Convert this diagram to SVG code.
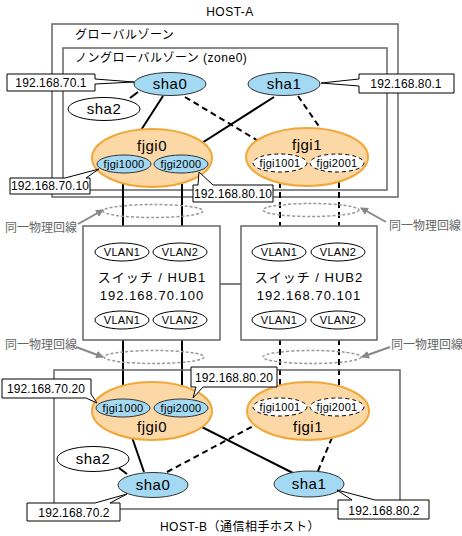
<svg xmlns="http://www.w3.org/2000/svg" width="462" height="536" viewBox="0 0 462 536">
<style>
text{font-family:"Liberation Sans","Noto Sans CJK JP",sans-serif;fill:#000;text-anchor:middle}
.box{fill:none;stroke:#666;stroke-width:1.5}
.sw{fill:#fff;stroke:#666;stroke-width:1.5}
.lbl{fill:#fff;stroke:#000;stroke-width:1}
.blue{fill:#a3d9f3;stroke:#333;stroke-width:1}
.wht{fill:#fff;stroke:#000;stroke-width:1}
.dsh{fill:#fff;stroke:#000;stroke-width:1;stroke-dasharray:4,3}
.org{fill:#fcd8a6;stroke:#f0a83a;stroke-width:2}
.gell{fill:none;stroke:#999;stroke-width:1.5;stroke-dasharray:3,2}
.sol{stroke:#000;stroke-width:2;fill:none}
.dl{stroke:#000;stroke-width:2;fill:none;stroke-dasharray:6,4}
.thin{stroke:#000;stroke-width:1;fill:none}
.garr{stroke:#888;stroke-width:2;fill:none}
.t12{font-size:12px;letter-spacing:0.5px}
.ip{font-size:12px;letter-spacing:0.1px}
.t14{font-size:15px;letter-spacing:0.5px}
.t11{font-size:11px;letter-spacing:0.3px}
.t13{font-size:13px;letter-spacing:1px}
.gt{font-size:12px;fill:#666;text-anchor:start}
</style>
<defs>
<marker id="ga" markerWidth="8" markerHeight="8" refX="7" refY="4" orient="auto" markerUnits="userSpaceOnUse">
<path d="M0,0 L8,4 L0,8 Z" fill="#888"/>
</marker>
</defs>

<text x="230" y="16" class="t12">HOST-A</text>
<g id="globalzone">
<rect x="52" y="24" width="346" height="173" class="box"/>
<text x="75" y="39" class="t12" style="text-anchor:start">グローバルゾーン</text>
</g>
<g id="zone0">
<rect x="63" y="48" width="324" height="142" class="box"/>
<text x="75" y="62" class="t12" style="text-anchor:start">ノングローバルゾーン (zone0)</text>
</g>

<g id="connectors">
<line x1="130" y1="98" x2="138" y2="92" class="sol"/>
<line x1="163" y1="96" x2="125" y2="155" class="sol"/>
<line x1="185" y1="97" x2="280" y2="154" class="dl"/>
<line x1="274" y1="97" x2="183" y2="155" class="sol"/>
<line x1="298" y1="96" x2="338" y2="154" class="dl"/>
<line x1="123" y1="173" x2="123" y2="243" class="sol"/>
<line x1="182" y1="173" x2="182" y2="243" class="sol"/>
<line x1="280" y1="172" x2="280" y2="243" class="dl"/>
<line x1="339" y1="172" x2="339" y2="243" class="dl"/>
<line x1="220" y1="284" x2="241" y2="284" class="thin"/>
<line x1="123" y1="329" x2="123" y2="399" class="sol"/>
<line x1="182" y1="329" x2="182" y2="399" class="sol"/>
<line x1="280" y1="329" x2="280" y2="398" class="dl"/>
<line x1="339" y1="329" x2="339" y2="398" class="dl"/>
<line x1="125" y1="417" x2="144" y2="472" class="sol"/>
<line x1="182" y1="417" x2="293" y2="473" class="sol"/>
<line x1="167" y1="472" x2="272" y2="416" class="dl"/>
<line x1="318" y1="471" x2="341" y2="416" class="dl"/>
<line x1="119" y1="468" x2="127" y2="474" class="sol"/>
<line x1="78" y1="224" x2="103" y2="210" class="garr" marker-end="url(#ga)"/>
<line x1="386" y1="222" x2="361" y2="208" class="garr" marker-end="url(#ga)"/>
<line x1="76" y1="347" x2="103" y2="357" class="garr" marker-end="url(#ga)"/>
<line x1="390" y1="347" x2="362" y2="357" class="garr" marker-end="url(#ga)"/>
</g>

<g id="sha0-a"><ellipse cx="170" cy="84" rx="36" ry="11.5" class="blue"/><text x="170" y="89" class="t14">sha0</text></g>
<g id="sha2-a"><ellipse cx="104" cy="109" rx="36" ry="11.5" class="wht"/><text x="104" y="114" class="t14">sha2</text></g>
<g id="sha1-a"><ellipse cx="284" cy="84" rx="36" ry="11.5" class="blue"/><text x="284" y="89" class="t14">sha1</text></g>

<g id="fjgi0-a"><ellipse cx="152" cy="158" rx="60" ry="29" class="org"/><text x="152" y="151" class="t14">fjgi0</text></g>
<g id="fjgi1000-a"><ellipse cx="124" cy="164" rx="27" ry="9" class="blue"/><text x="124" y="168" class="t11">fjgi1000</text></g>
<g id="fjgi2000-a"><ellipse cx="181" cy="164" rx="27" ry="9" class="blue"/><text x="181" y="168" class="t11">fjgi2000</text></g>
<g id="fjgi1-a"><ellipse cx="307" cy="157" rx="61" ry="29" class="org"/><text x="307" y="150" class="t14">fjgi1</text></g>
<g id="fjgi1001-a"><ellipse cx="280" cy="163" rx="27" ry="9" class="dsh"/><text x="280" y="167" class="t11">fjgi1001</text></g>
<g id="fjgi2001-a"><ellipse cx="337" cy="163" rx="27" ry="9" class="dsh"/><text x="337" y="167" class="t11">fjgi2001</text></g>

<g id="lbl-70-1"><path d="M7,74 H95 V79 L134,82 L95,84 V91 H7 Z" class="lbl"/><text x="51" y="87" class="ip">192.168.70.1</text></g>
<g id="lbl-80-1"><path d="M359,74 H454 V93 H359 V86 L321,83 L359,79 Z" class="lbl"/><text x="406" y="88" class="ip">192.168.80.1</text></g>
<g id="lbl-70-10"><path d="M10,178 H65 L99,169 L86,178 H90 V194 H10 Z" class="lbl"/><text x="50" y="190" class="ip">192.168.70.10</text></g>
<g id="lbl-80-10"><path d="M193,185 H198 L199,172 L213,185 H273 V202 H193 Z" class="lbl"/><text x="233" y="198" class="ip">192.168.80.10</text></g>

<g id="same-line-1"><ellipse cx="153" cy="211" rx="50" ry="6.5" class="gell"/><text x="5" y="232" class="gt">同一物理回線</text></g>
<g id="same-line-2"><ellipse cx="311" cy="210" rx="48" ry="6.5" class="gell"/><text x="389" y="230" class="gt">同一物理回線</text></g>

<g id="hub1">
<rect x="83" y="226" width="137" height="114" class="sw"/>
<ellipse cx="122" cy="252" rx="27" ry="9" class="wht"/><text x="122" y="256" class="t11">VLAN1</text>
<ellipse cx="180" cy="252" rx="27" ry="9" class="wht"/><text x="180" y="256" class="t11">VLAN2</text>
<text x="152" y="282" class="t13">スイッチ / HUB1</text>
<text x="152" y="300" class="t13">192.168.70.100</text>
<ellipse cx="122" cy="320" rx="27" ry="9" class="wht"/><text x="122" y="324" class="t11">VLAN1</text>
<ellipse cx="180" cy="320" rx="27" ry="9" class="wht"/><text x="180" y="324" class="t11">VLAN2</text>
</g>
<g id="hub2">
<rect x="241" y="226" width="136" height="114" class="sw"/>
<ellipse cx="279" cy="252" rx="27" ry="9" class="wht"/><text x="279" y="256" class="t11">VLAN1</text>
<ellipse cx="338" cy="252" rx="27" ry="9" class="wht"/><text x="338" y="256" class="t11">VLAN2</text>
<text x="309" y="282" class="t13">スイッチ / HUB2</text>
<text x="309" y="300" class="t13">192.168.70.101</text>
<ellipse cx="279" cy="320" rx="27" ry="9" class="wht"/><text x="279" y="324" class="t11">VLAN1</text>
<ellipse cx="338" cy="320" rx="27" ry="9" class="wht"/><text x="338" y="324" class="t11">VLAN2</text>
</g>

<g id="same-line-3"><ellipse cx="154" cy="357" rx="50" ry="6.5" class="gell"/><text x="5" y="349" class="gt">同一物理回線</text></g>
<g id="same-line-4"><ellipse cx="312" cy="357" rx="49" ry="6.5" class="gell"/><text x="391" y="349" class="gt">同一物理回線</text></g>

<g id="hostB"><rect x="54" y="370" width="346" height="139" class="box"/>
<text x="240" y="531" class="t12">HOST-B（通信相手ホスト）</text></g>

<g id="fjgi0-b"><ellipse cx="152" cy="411" rx="60" ry="29" class="org"/><text x="152" y="432" class="t14">fjgi0</text></g>
<g id="fjgi1000-b"><ellipse cx="123" cy="408" rx="27" ry="9" class="blue"/><text x="123" y="412" class="t11">fjgi1000</text></g>
<g id="fjgi2000-b"><ellipse cx="181" cy="408" rx="27" ry="9" class="blue"/><text x="181" y="412" class="t11">fjgi2000</text></g>
<g id="fjgi1-b"><ellipse cx="308" cy="411" rx="61" ry="29" class="org"/><text x="308" y="432" class="t14">fjgi1</text></g>
<g id="fjgi1001-b"><ellipse cx="280" cy="407" rx="27" ry="9" class="dsh"/><text x="280" y="411" class="t11">fjgi1001</text></g>
<g id="fjgi2001-b"><ellipse cx="337" cy="407" rx="27" ry="9" class="dsh"/><text x="337" y="411" class="t11">fjgi2001</text></g>

<g id="sha2-b"><ellipse cx="93" cy="459" rx="36" ry="12.5" class="wht"/><text x="93" y="464" class="t14">sha2</text></g>
<g id="sha0-b"><ellipse cx="153" cy="485" rx="35" ry="12.5" class="blue"/><text x="153" y="490" class="t14">sha0</text></g>
<g id="sha1-b"><ellipse cx="309" cy="484" rx="35" ry="13" class="blue"/><text x="309" y="489" class="t14">sha1</text></g>

<g id="lbl-70-20"><path d="M2,379 H91 V394 L97,403 L86,398 H2 Z" class="lbl"/><text x="46" y="393" class="ip">192.168.70.20</text></g>
<g id="lbl-80-20"><path d="M191,367 H277 V387 H203 L193,398 L196,387 H191 Z" class="lbl"/><text x="234" y="382" class="ip">192.168.80.20</text></g>
<g id="lbl-70-2"><path d="M27,503 H95 L127,494 L110,503 H120 V521 H27 Z" class="lbl"/><text x="74" y="517" class="ip">192.168.70.2</text></g>
<g id="lbl-80-2"><path d="M338,500 H352 L337,490 L375,500 H429 V519 H338 Z" class="lbl"/><text x="384" y="515" class="ip">192.168.80.2</text></g>
</svg>
